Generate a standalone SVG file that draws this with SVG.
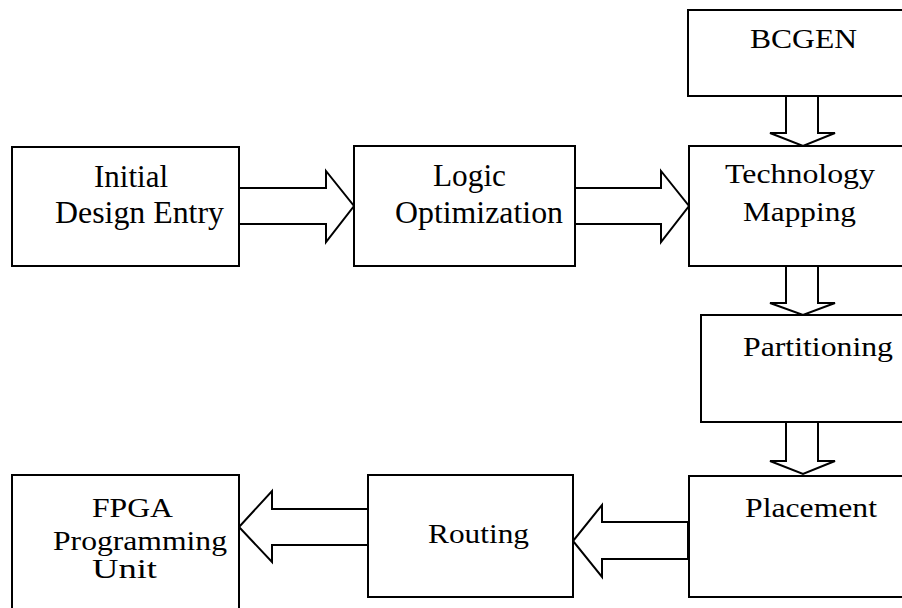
<svg xmlns="http://www.w3.org/2000/svg" width="902" height="608" viewBox="0 0 902 608">
  <style>
    .box { fill: #ffffff; stroke: #000000; stroke-width: 2; }
    .arrow { fill: #ffffff; stroke: #000000; stroke-width: 2; stroke-linejoin: miter; }
    .lbl { font-family: "Liberation Serif", "Times New Roman", serif; fill: #000000; }
    .big { font-size: 31px; }
    .small { font-size: 28px; }
  </style>
  <rect width="902" height="608" fill="#ffffff"/>

  <!-- connectors: block arrows -->
  <g id="connectors">
    <polygon class="arrow" points="239,188 326,188 326,171 354,206 326,242 326,224 239,224"/>
    <polygon class="arrow" points="575,188 661,188 661,171 689,206 661,242 661,224 575,224"/>
    <polygon class="arrow" points="786,96 786,133 770,133 803,146 835,133 818,133 818,96"/>
    <polygon class="arrow" points="786,266 786,303 770,303 803,315 835,303 818,303 818,266"/>
    <polygon class="arrow" points="786,422 786,461 770,461 803,474 835,461 818,461 818,422"/>
    <polygon class="arrow" points="688,522 602,522 602,505 573,541 602,577 602,559 688,559"/>
    <polygon class="arrow" points="368,509 272,509 272,491 239,527 272,562 272,545 368,545"/>
  </g>

  <g id="initial-design-entry">
    <rect class="box" x="12" y="147" width="227" height="119"/>
    <text class="lbl big" x="94" y="187" textLength="74" lengthAdjust="spacingAndGlyphs">Initial</text>
    <text class="lbl big" x="55" y="223" textLength="169" lengthAdjust="spacingAndGlyphs">Design Entry</text>
  </g>

  <g id="logic-optimization">
    <rect class="box" x="354" y="146" width="221" height="120"/>
    <text class="lbl big" x="433" y="186" textLength="73" lengthAdjust="spacingAndGlyphs">Logic</text>
    <text class="lbl big" x="395" y="223" textLength="168" lengthAdjust="spacingAndGlyphs">Optimization</text>
  </g>

  <g id="bcgen">
    <rect class="box" x="688" y="10" width="230" height="86"/>
    <text class="lbl small" x="750" y="48" textLength="107" lengthAdjust="spacingAndGlyphs">BCGEN</text>
  </g>

  <g id="technology-mapping">
    <rect class="box" x="689" y="146" width="230" height="120"/>
    <text class="lbl small" x="725" y="183" textLength="150" lengthAdjust="spacingAndGlyphs">Technology</text>
    <text class="lbl small" x="743" y="221" textLength="113" lengthAdjust="spacingAndGlyphs">Mapping</text>
  </g>

  <g id="partitioning">
    <rect class="box" x="701" y="315" width="220" height="107"/>
    <text class="lbl small" x="743" y="356" textLength="150" lengthAdjust="spacingAndGlyphs">Partitioning</text>
  </g>

  <g id="placement">
    <rect class="box" x="689" y="476" width="230" height="121"/>
    <text class="lbl small" x="745" y="517" textLength="132" lengthAdjust="spacingAndGlyphs">Placement</text>
  </g>

  <g id="routing">
    <rect class="box" x="368" y="475" width="205" height="122"/>
    <text class="lbl small" x="428" y="543" textLength="101" lengthAdjust="spacingAndGlyphs">Routing</text>
  </g>

  <g id="fpga-programming-unit">
    <rect class="box" x="12" y="475" width="227" height="145"/>
    <text class="lbl small" x="92" y="517" textLength="81" lengthAdjust="spacingAndGlyphs">FPGA</text>
    <text class="lbl small" x="53" y="550" textLength="174" lengthAdjust="spacingAndGlyphs">Programming</text>
    <text class="lbl small" x="92" y="578" textLength="65" lengthAdjust="spacingAndGlyphs">Unit</text>
  </g>
</svg>
